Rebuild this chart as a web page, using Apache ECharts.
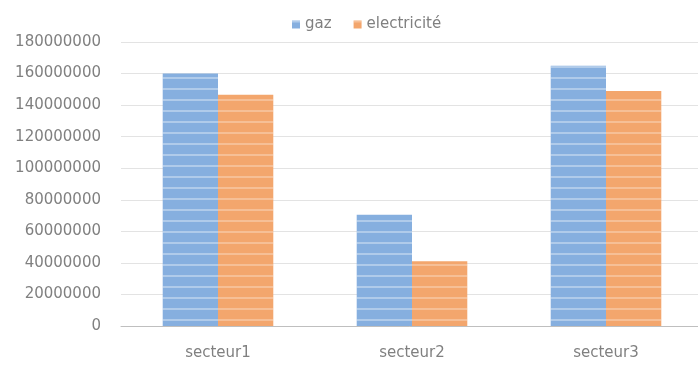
<!DOCTYPE html>
<html>
<head>
<meta charset="utf-8">
<script src="https://cdn.jsdelivr.net/npm/echarts@6/dist/echarts.min.js"></script>
<style>
  html, body { margin: 0; padding: 0; background: #fff; }
  #chart { width: 698px; height: 365px; }
</style>
</head>
<body>
<div id="chart"></div>
<script>
// Consumption per sector
const categories = ['secteur1', 'secteur2', 'secteur3'];
const gaz = [160000000, 70500000, 165000000];
const electricite = [146500000, 41000000, 149000000];
const yTicks = [0, 20000000, 40000000, 60000000, 80000000, 100000000, 120000000, 140000000, 160000000, 180000000];

const chart = echarts.init(document.getElementById('chart'));

// thin light horizontal lines across each bar
function stripes(color) {
  return {
    symbol: 'rect',
    color: color,
    dashArrayX: [1, 0],
    dashArrayY: [2, 9],
    rotation: 0,
    symbolSize: 1
  };
}

const font = 'DejaVu Sans, sans-serif';
const textColor = '#808080';

chart.setOption({
  animation: false,
  legend: {
    top: 12,
    left: 287,
    itemWidth: 8,
    itemHeight: 8,
    itemGap: 22,
    icon: 'rect',
    textStyle: { color: textColor, fontSize: 15, fontFamily: font },
    data: ['gaz', 'electricité']
  },
  grid: { left: 121, width: 582, top: 42, bottom: 39, outerBoundsMode: 'none', containLabel: false },
  xAxis: {
    type: 'category',
    data: categories,
    axisLine: { lineStyle: { color: '#bfbfbf', width: 1 } },
    axisTick: { show: false },
    axisLabel: { color: textColor, fontSize: 15, fontFamily: font, margin: 20 }
  },
  yAxis: {
    type: 'value',
    min: yTicks[0],
    max: yTicks[yTicks.length - 1],
    interval: yTicks[1] - yTicks[0],
    axisLine: { show: false },
    axisTick: { show: false },
    splitLine: { lineStyle: { color: '#e3e3e3', width: 1 } },
    axisLabel: {
      color: textColor, fontSize: 15, fontFamily: font, margin: 20,
      formatter: v => String(v)
    }
  },
  series: [
    {
      name: 'gaz',
      type: 'bar',
      data: gaz,
      barGap: '0%',
      barCategoryGap: '43%',
      itemStyle: { color: '#86afdf', decal: stripes('rgba(255,255,255,0.35)') }
    },
    {
      name: 'electricité',
      type: 'bar',
      data: electricite,
      itemStyle: { color: '#f3a66d', decal: stripes('rgba(255,255,255,0.28)') }
    }
  ]
});
</script>
</body>
</html>
